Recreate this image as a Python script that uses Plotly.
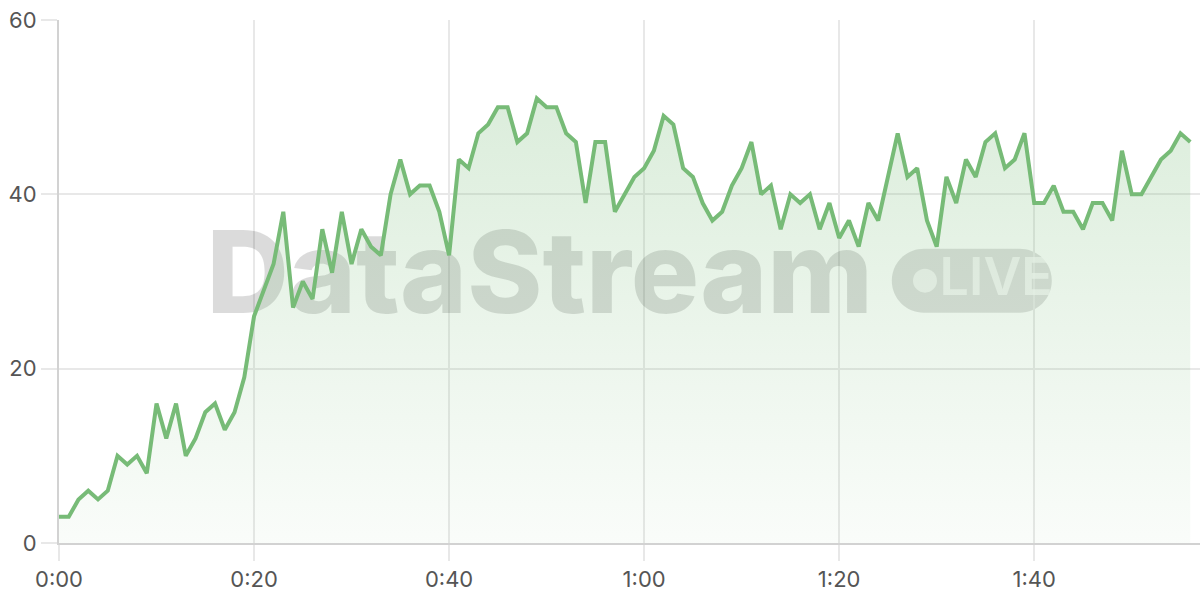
import plotly.graph_objects as go

seconds = list(range(0, 117))
values = [3, 3, 5, 6, 5, 6, 10, 9, 10, 8,
          16, 12, 16, 10, 12, 15, 16, 13, 15, 19,
          26, 29, 32, 38, 27, 30, 28, 36, 31, 38,
          32, 36, 34, 33, 40, 44, 40, 41, 41, 38,
          33, 44, 43, 47, 48, 50, 50, 46, 47, 51,
          50, 50, 47, 46, 39, 46, 46, 38, 40, 42,
          43, 45, 49, 48, 43, 42, 39, 37, 38, 41,
          43, 46, 40, 41, 36, 40, 39, 40, 36, 39,
          35, 37, 34, 39, 37, 42, 47, 42, 43, 37,
          34, 42, 39, 44, 42, 46, 47, 43, 44, 47,
          39, 39, 41, 38, 38, 36, 39, 39, 37, 45,
          40, 40, 42, 44, 45, 47, 46]

x_tick_vals = [0, 20, 40, 60, 80, 100]
x_tick_text = ["0:00", "0:20", "0:40", "1:00", "1:20", "1:40"]
y_tick_vals = [0, 20, 40, 60]

watermark_text = "DataStream"
badge_text = "LIVE"

LINE = "#77bb77"
FONT = "Inter"

fig = go.Figure()

# watermark (drawn first so the area fill tints it)
fig.add_trace(go.Scatter(
    x=[49.3], y=[29.6], mode="text", text=[watermark_text],
    textfont=dict(family=FONT, size=114, color="rgba(0,0,0,0.14)", weight=800),
    textposition="middle center", hoverinfo="skip", showlegend=False,
))
fig.add_trace(go.Scatter(
    x=[88.8], y=[30.1], mode="markers",
    marker=dict(size=24, color="rgba(255,255,255,0.65)", line=dict(width=0)),
    hoverinfo="skip", showlegend=False,
))
fig.add_trace(go.Scatter(
    x=[96.1], y=[30.0], mode="text", text=[badge_text],
    textfont=dict(family=FONT, size=52, color="rgba(255,255,255,0.65)", weight=600),
    textposition="middle center", hoverinfo="skip", showlegend=False,
))

fig.add_trace(go.Scatter(
    x=seconds, y=values, mode="lines",
    line=dict(color=LINE, width=4),
    fill="tozeroy",
    fillgradient=dict(type="vertical", start=0, stop=60,
                      colorscale=[[0, "rgba(119,187,119,0.04)"],
                                  [1, "rgba(119,187,119,0.30)"]]),
    hoverinfo="skip", showlegend=False,
))

# LIVE pill (rounded rectangle, pixel sized)
k = 0.5523 * 32
pill = (f"M -48,-32 L 48,-32 C {48+k},-32 80,{-k} 80,0 "
        f"C 80,{k} {48+k},32 48,32 L -48,32 C {-48-k},32 -80,{k} -80,0 "
        f"C -80,{-k} {-48-k},-32 -48,-32 Z")
fig.add_shape(type="path", xref="x", yref="y", xsizemode="pixel", ysizemode="pixel",
              xanchor=93.6, yanchor=30.1, path=pill,
              fillcolor="rgba(0,0,0,0.13)", line=dict(width=0), layer="below")

fig.update_layout(
    width=1200, height=600,
    margin=dict(l=59, r=0, t=20, b=57),
    paper_bgcolor="white", plot_bgcolor="white",
    font=dict(family=FONT, size=22, color="#555555"),
    xaxis=dict(range=[0, 117], tickvals=x_tick_vals, ticktext=x_tick_text,
               showgrid=True, gridcolor="#e8e8e8", gridwidth=1.5,
               ticks="outside", ticklen=16, tickcolor="#e8e8e8", tickwidth=1.5,
               showline=True, linecolor="#d2d2d2", linewidth=2,
               zeroline=False, fixedrange=True, automargin=False),
    yaxis=dict(range=[0, 60], tickvals=y_tick_vals,
               showgrid=True, gridcolor="#e8e8e8", gridwidth=1.5,
               ticks="outside", ticklen=16, tickcolor="#e8e8e8", tickwidth=1.5,
               showline=True, linecolor="#d2d2d2", linewidth=2,
               zeroline=False, fixedrange=True, automargin=False),
)

fig.write_html("out.html", config={"displayModeBar": False},
               post_script="document.body.style.margin='0';document.body.style.overflow='hidden';")
